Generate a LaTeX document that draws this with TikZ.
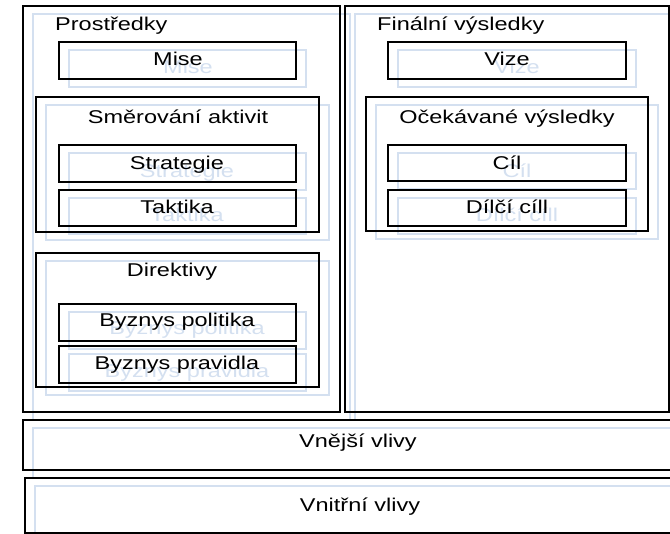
\documentclass[tikz,border=0pt]{standalone}
\usepackage{fontspec}
\newfontfamily\labelfont[FakeStretch=1.27]{Liberation Sans}
\definecolor{shadowblue}{RGB}{212,224,240}
\pgfdeclarelayer{ghost}
\pgfsetlayers{ghost,main}
\tikzset{
  boxline/.style={draw=black, line width=2.3pt, outer sep=0pt, inner sep=0pt, anchor=north west},
  ghostline/.style={draw=shadowblue, line width=1.2pt, outer sep=0pt, inner sep=0pt, anchor=north west},
  labeltext/.style={font={\labelfont\fontsize{18.5pt}{22pt}\selectfont}, inner sep=0pt, anchor=base},
  ghosttext/.style={labeltext, text=shadowblue},
}
% framed panel with its pale offset copy: name, x1, y1, x2, y2
\newcommand\panel[5]{%
  \begin{pgfonlayer}{ghost}
    \node[ghostline, minimum width={#4-#2}, minimum height={#5-#3}] (#1-g) at (#2+10,#3+8) {};
  \end{pgfonlayer}
  \node[boxline, minimum width={#4-#2}, minimum height={#5-#3}] (#1) at (#2,#3) {};}
% item text with its pale offset copy: name, x, y, text
\newcommand\itemtitle[4]{%
  \begin{pgfonlayer}{ghost}
    \node[ghosttext] (#1-g) at (#2+10,#3+8) {#4};
  \end{pgfonlayer}
  \node[labeltext] (#1) at (#2,#3) {#4};}
% group heading text: name, anchor, x, y, text
\newcommand\grouptitle[5]{%
  \node[labeltext, anchor=#2] (#1) at (#3,#4) {#5};}
\begin{document}
\begin{tikzpicture}[x=1pt, y=-1pt]
\useasboundingbox (0,0) rectangle (670,534);
\clip (0,0) rectangle (670,534);
\begin{pgfonlayer}{ghost}
  \fill[white] (0,0) rectangle (670,534);
\end{pgfonlayer}

% means column
\panel{prostredky}{23}{6}{340}{412}
\grouptitle{tprostredky}{base west}{55}{31}{Prostředky}
\panel{mise}{59}{42}{296}{79}
\itemtitle{tmise}{178}{66}{Mise}
\panel{smerovani}{36}{97}{319}{232}
\grouptitle{tsmerovani}{base}{178}{124}{Směrování aktivit}
\panel{strategie}{59}{145}{296}{182}
\itemtitle{tstrategie}{177}{170}{Strategie}
\panel{taktika}{59}{190}{296}{226}
\itemtitle{ttaktika}{177}{214}{Taktika}
\panel{direktivy}{36}{253}{319}{387}
\grouptitle{tdirektivy}{base}{172}{277}{Direktivy}
\panel{politika}{59}{304}{296}{341}
\itemtitle{tpolitika}{177}{327}{Byznys politika}
\panel{pravidla}{59}{346}{296}{383}
\itemtitle{tpravidla}{177}{370}{Byznys pravidla}

% ends column
\panel{finalni}{345}{6}{669}{412}
\grouptitle{tfinalni}{base west}{377}{31}{Finální výsledky}
\panel{vize}{388}{42}{626}{79}
\itemtitle{tvize}{507}{66}{Vize}
\panel{ocekavane}{366}{97}{648}{231}
\grouptitle{tocekavane}{base}{507}{124}{Očekávané výsledky}
\panel{cil}{388}{145}{626}{181}
\itemtitle{tcil}{507}{170}{Cíl}
\panel{dilci}{388}{190}{626}{226}
\itemtitle{tdilci}{507}{214}{Dílčí cíll}

% influences
\panel{vnejsi}{23}{420}{695}{470}
\grouptitle{tvnejsi}{base}{358}{448}{Vnější vlivy}
\panel{vnitrni}{25}{478}{695}{533}
\grouptitle{tvnitrni}{base}{360}{512}{Vnitřní vlivy}
\end{tikzpicture}
\end{document}
